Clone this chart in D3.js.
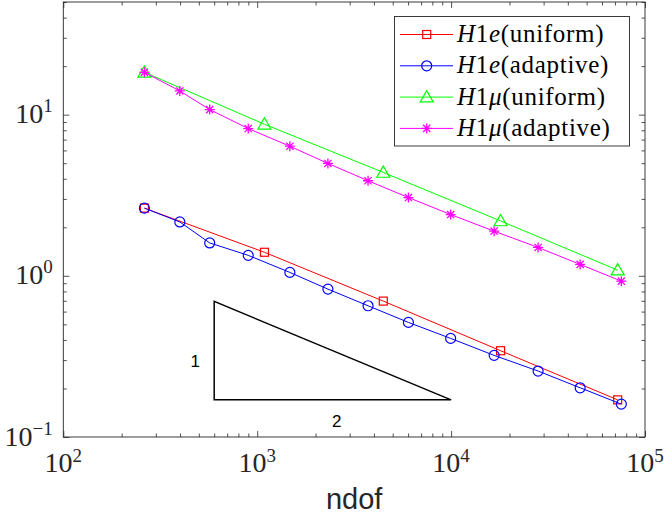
<!DOCTYPE html>
<html>
<head>
<meta charset="utf-8">
<script src="https://cdn.jsdelivr.net/npm/d3@7"></script>
<style>
  body { margin: 0; background: #fff; }
  .serif { font-family: "Liberation Serif", "Times New Roman", serif; }
  .sans { font-family: "Liberation Sans", Arial, Helvetica, sans-serif; }
</style>
</head>
<body>
<script>
// data
var ndofUniform = [262, 1090, 4470, 18000, 72300]
var h1eUniform = [2.63, 1.40, 0.697, 0.343, 0.170]
var h1muUniform = [18.3, 8.72, 4.38, 2.19, 1.085]

var ndofAdaptive = [262, 399, 569, 899, 1474, 2316, 3730, 6026, 9950, 16670, 28100, 46300, 75500]
var h1eAdaptive = [2.63, 2.16, 1.60, 1.34, 1.05, 0.827, 0.652, 0.514, 0.409, 0.321, 0.2566, 0.202, 0.160]
var h1muAdaptive = [18.3, 14.03, 10.75, 8.20, 6.37, 4.98, 3.89, 3.06, 2.40, 1.893, 1.50, 1.177, 0.927]

var xMajor = [1e2, 1e3, 1e4, 1e5]
var xMajorExp = ["2", "3", "4", "5"]
var yMajor = [0.1, 1, 10]
var yMajorExp = ["\u22121", "0", "1"]

// slope triangle: (600, 0.17) -> (1e4, 0.17) -> (600, 0.17*sqrt(1e4/600))
var triX = [600, 1e4, 600]
var triY = [0.17, 0.17, 0.694]

var width = 664
var height = 516
var margin = { top: 2, right: 19, bottom: 79, left: 63.3 }
var w = width - margin.left - margin.right
var h = height - margin.top - margin.bottom

var svg = d3.select("body")
  .append("svg")
  .attr("width", width)
  .attr("height", height)

var g = svg.append("g")
  .attr("transform", "translate(" + margin.left + "," + margin.top + ")")

var x = d3.scaleLog().domain([1e2, 1e5]).range([0, w])
var y = d3.scaleLog().domain([0.1, 50]).range([h, 0])

// minor ticks
function minors(lo, hi, top) {
  var out = []
  for (var e = lo; e < hi; e++) {
    for (var k = 2; k <= 9; k++) {
      var v = k * Math.pow(10, e)
      if (v <= top) out.push(v)
    }
  }
  return out
}
var xMinor = minors(2, 5, 1e5)
var yMinor = minors(-1, 2, 50)

var axisColor = "#262626"

function styleAxis(sel) {
  sel.select(".domain").remove()
  sel.selectAll("line").attr("stroke", axisColor).attr("stroke-width", 0.8)
  sel.selectAll("text").remove()
}

// bottom / top
g.append("g").attr("transform", "translate(0," + h + ")")
  .call(d3.axisBottom(x).tickValues(xMajor).tickSize(-6).tickSizeOuter(0)).call(styleAxis)
g.append("g").attr("transform", "translate(0," + h + ")")
  .call(d3.axisBottom(x).tickValues(xMinor).tickSize(-3.5).tickSizeOuter(0)).call(styleAxis)
g.append("g")
  .call(d3.axisTop(x).tickValues(xMajor).tickSize(-6).tickSizeOuter(0)).call(styleAxis)
g.append("g")
  .call(d3.axisTop(x).tickValues(xMinor).tickSize(-3.5).tickSizeOuter(0)).call(styleAxis)
// left / right
g.append("g")
  .call(d3.axisLeft(y).tickValues(yMajor).tickSize(-6).tickSizeOuter(0)).call(styleAxis)
g.append("g")
  .call(d3.axisLeft(y).tickValues(yMinor).tickSize(-3.5).tickSizeOuter(0)).call(styleAxis)
g.append("g").attr("transform", "translate(" + w + ",0)")
  .call(d3.axisRight(y).tickValues(yMajor).tickSize(-6).tickSizeOuter(0)).call(styleAxis)
g.append("g").attr("transform", "translate(" + w + ",0)")
  .call(d3.axisRight(y).tickValues(yMinor).tickSize(-3.5).tickSizeOuter(0)).call(styleAxis)

// box
g.append("rect")
  .attr("x", 0).attr("y", 0)
  .attr("width", w).attr("height", h)
  .attr("fill", "none")
  .attr("stroke", axisColor)
  .attr("stroke-width", 0.9)

// tick labels 10^n
var xl = g.selectAll("text.xlab")
  .data(xMajor)
  .enter()
  .append("text")
  .attr("class", "xlab serif")
  .attr("x", function(d){ return x(d) })
  .attr("y", h + 34.5)
  .attr("text-anchor", "middle")
  .style("font-size", "28px")
  .attr("fill", axisColor)
xl.append("tspan").text("10")
xl.append("tspan")
  .attr("dy", -10)
  .style("font-size", "19px")
  .text(function(d, i){ return xMajorExp[i] })

var yl = g.selectAll("text.ylab")
  .data(yMajor)
  .enter()
  .append("text")
  .attr("class", "ylab serif")
  .attr("x", -10.5)
  .attr("y", function(d){ return y(d) + 8.5 })
  .attr("text-anchor", "end")
  .style("font-size", "28px")
  .attr("fill", axisColor)
yl.append("tspan").text("10")
yl.append("tspan")
  .attr("dy", -11)
  .style("font-size", "19px")
  .text(function(d, i){ return yMajorExp[i] })

// axis label
svg.append("text")
  .attr("class", "sans")
  .attr("x", margin.left + w / 2)
  .attr("y", 509)
  .attr("text-anchor", "middle")
  .style("font-size", "29px")
  .attr("fill", axisColor)
  .text("ndof")

// slope triangle
var triPts = triX.map(function(d, i){ return [x(d), y(triY[i])] })
g.append("path")
  .attr("d", d3.line()(triPts) + "Z")
  .attr("fill", "none")
  .attr("stroke", "#000")
  .attr("stroke-width", 1.5)
g.append("text")
  .attr("class", "sans")
  .attr("x", x(triX[0]) - 19)
  .attr("y", (y(triY[0]) + y(triY[2])) / 2 + 16)
  .attr("text-anchor", "middle")
  .style("font-size", "17px")
  .text("1")
g.append("text")
  .attr("class", "sans")
  .attr("x", x(Math.sqrt(triX[0] * triX[1])) + 4)
  .attr("y", y(triY[0]) + 27)
  .attr("text-anchor", "middle")
  .style("font-size", "17px")
  .text("2")

// markers
function marker(sel, type, color) {
  if (type == "square") {
    sel.append("rect").attr("x", -4).attr("y", -4).attr("width", 8).attr("height", 8)
      .attr("fill", "none").attr("stroke", color).attr("stroke-width", 1.2)
  } else if (type == "circle") {
    sel.append("circle").attr("r", 5)
      .attr("fill", "none").attr("stroke", color).attr("stroke-width", 1.2)
  } else if (type == "triangle") {
    sel.append("path").attr("d", "M0,-6.5L6.5,4.8L-6.5,4.8Z")
      .attr("fill", "none").attr("stroke", color).attr("stroke-width", 1.2)
  } else {
    sel.append("path").attr("d", "M-5,0L5,0M0,-5L0,5M-3.6,-3.6L3.6,3.6M-3.6,3.6L3.6,-3.6")
      .attr("fill", "none").attr("stroke", color).attr("stroke-width", 1.3)
  }
}

var series = [
  { xs: ndofUniform, ys: h1eUniform, color: "#ff0000", type: "square" },
  { xs: ndofAdaptive, ys: h1eAdaptive, color: "#0000ff", type: "circle" },
  { xs: ndofUniform, ys: h1muUniform, color: "#00ff00", type: "triangle" },
  { xs: ndofAdaptive, ys: h1muAdaptive, color: "#ff00ff", type: "star" }
]

var line = d3.line()
  .x(function(d){ return x(d[0]) })
  .y(function(d){ return y(d[1]) })

series.forEach(function(s){
  var pts = s.xs.map(function(d, i){ return [d, s.ys[i]] })
  g.append("path")
    .attr("d", line(pts))
    .attr("fill", "none")
    .attr("stroke", s.color)
    .attr("stroke-width", 1)
  g.selectAll(null)
    .data(pts)
    .enter()
    .append("g")
    .attr("transform", function(d){ return "translate(" + x(d[0]) + "," + y(d[1]) + ")" })
    .each(function(){ marker(d3.select(this), s.type, s.color) })
})

// legend
var labels = [
  ["H", "1", "e", "(uniform)"],
  ["H", "1", "e", "(adaptive)"],
  ["H", "1", "\u03bc", "(uniform)"],
  ["H", "1", "\u03bc", "(adaptive)"]
]
var leg = svg.append("g")
leg.append("rect")
  .attr("x", 394.5).attr("y", 16.5)
  .attr("width", 235).attr("height", 129.5)
  .attr("fill", "#fff")
  .attr("stroke", axisColor)
  .attr("stroke-width", 0.9)

series.forEach(function(s, i){
  var ry = 34.5 + i * 31.3
  leg.append("line")
    .attr("x1", 400).attr("x2", 453)
    .attr("y1", ry).attr("y2", ry)
    .attr("stroke", s.color).attr("stroke-width", 1)
  var m = leg.append("g").attr("transform", "translate(426.7," + ry + ")")
  marker(m, s.type, s.color)
  var t = leg.append("text")
    .attr("class", "serif")
    .attr("x", 457)
    .attr("y", ry + 7.5)
    .style("font-size", "25px")
    .style("letter-spacing", "0.7px")
    .attr("fill", "#000")
  t.append("tspan").style("font-style", "italic").text(labels[i][0])
  t.append("tspan").text(labels[i][1])
  t.append("tspan").style("font-style", "italic").text(labels[i][2])
  t.append("tspan").text(labels[i][3])
})
</script>
</body>
</html>
